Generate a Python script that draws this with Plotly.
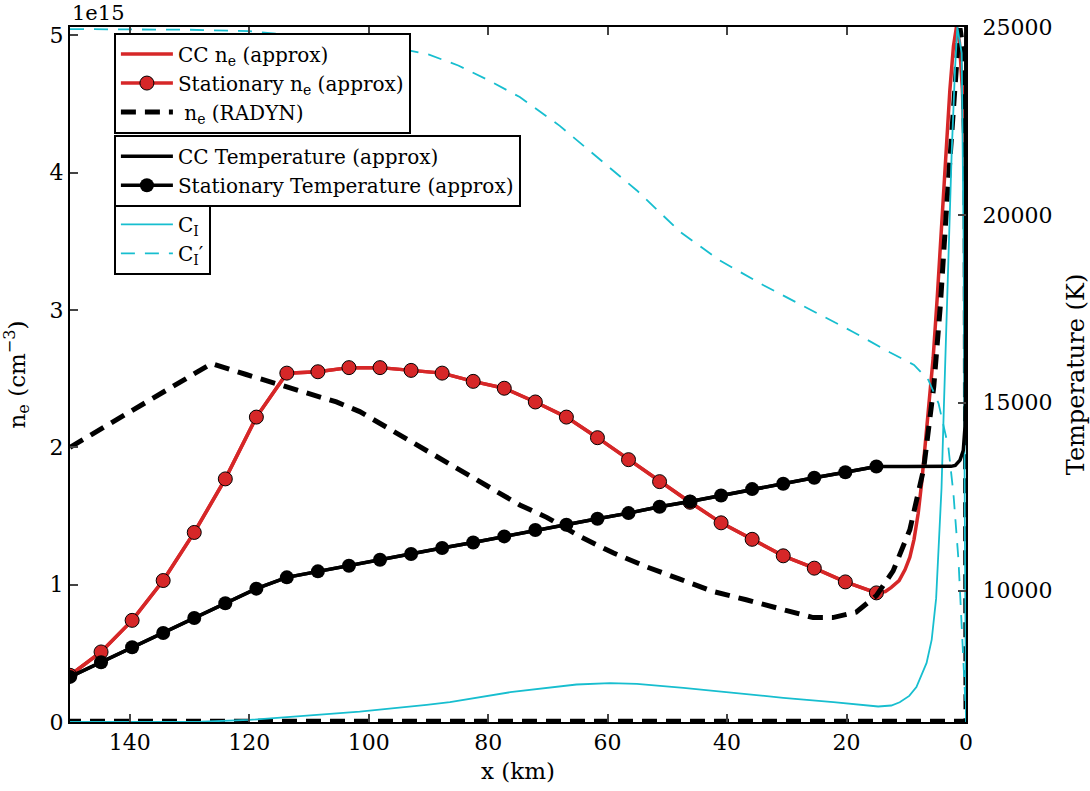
import plotly.graph_objects as go

# ---- stationary solution sample points (km) ----
x_stat = [150.0, 144.8, 139.6, 134.4, 129.2, 124.0, 118.8, 113.7, 108.5, 103.3,
          98.1, 92.9, 87.7, 82.5, 77.3, 72.1, 66.9, 61.7, 56.5, 51.3,
          46.2, 41.0, 35.8, 30.6, 25.4, 20.2, 15.0]
# electron density, units of 1e15 cm^-3
ne_stat = [0.34, 0.51, 0.74, 1.03, 1.38, 1.77, 2.22, 2.54, 2.55, 2.58,
           2.58, 2.56, 2.54, 2.48, 2.43, 2.33, 2.22, 2.07, 1.91, 1.75,
           1.60, 1.45, 1.33, 1.21, 1.12, 1.02, 0.94]
# temperature, K
T_stat = [7700, 8090, 8490, 8870, 9270, 9660, 10050, 10350, 10510, 10660,
          10820, 10970, 11130, 11280, 11440, 11610, 11750, 11910, 12060, 12230,
          12370, 12530, 12700, 12840, 13000, 13150, 13300]

# ---- CC solution beyond the last stationary point ----
x_cc_ne_tail = [13.5, 12.5, 11.2, 10.2, 9.4, 8.7, 8.0, 7.4, 6.8, 6.2, 5.5, 4.8,
                4.1, 3.4, 2.7, 2.1, 1.6, 1.1, 0.6, 0.25, 0.0]
ne_cc_tail = [0.95, 0.98, 1.03, 1.11, 1.20, 1.33, 1.52, 1.75, 2.05, 2.35, 2.65, 3.10,
              3.62, 4.10, 4.60, 4.92, 5.06, 4.95, 4.60, 4.10, 3.60]
x_cc_T_tail = [10.0, 5.0, 2.5, 1.8, 1.0, 0.45, 0.17, 0.08, 0.05, 0.03]
T_cc_tail = [13300, 13300, 13305, 13330, 13470, 13735, 14355, 15250, 18000, 25000]

# ---- RADYN electron density (1e15 cm^-3) ----
x_radyn = [150.0, 126.3, 120.5, 112.6, 105.4, 101.5, 95.9, 90.3, 84.7, 79.1,
           74.7, 70.2, 64.6, 59.0, 53.5, 47.9, 42.3, 36.8, 31.1, 25.6,
           22.3, 18.4, 15.0, 12.2, 9.4, 7.1, 5.4, 4.3, 3.2, 2.1,
           1.3, 1.0, 0.5, 0.15, 0.0, 0.0, 150.0]
ne_radyn = [2.00, 2.61, 2.53, 2.43, 2.33, 2.26, 2.12, 1.98, 1.83, 1.69,
            1.58, 1.49, 1.35, 1.23, 1.13, 1.04, 0.95, 0.89, 0.82, 0.76,
            0.76, 0.80, 0.92, 1.10, 1.40, 1.84, 2.44, 3.03, 3.78, 4.52,
            4.96, 5.05, 4.90, 4.00, 2.00, 0.005, 0.005]

# ---- C_I and C_I' (same scale as n_e) ----
x_ci = [150.0, 135.0, 128.0, 120.0, 112.6, 101.5, 90.3, 86.4, 76.3, 65.2,
        59.6, 55.1, 47.3, 38.9, 30.6, 22.2, 14.7, 12.5, 11.1, 9.5,
        8.3, 6.6, 5.74, 5.0, 4.5, 4.1, 3.7, 3.3, 2.95, 2.4,
        1.84, 1.45, 0.72, 0.4, 0.2, 0.0]
ci = [0.0, 0.0, 0.002, 0.015, 0.04, 0.076, 0.124, 0.144, 0.217, 0.273,
      0.283, 0.278, 0.249, 0.21, 0.176, 0.144, 0.113, 0.12, 0.144, 0.19,
      0.254, 0.43, 0.60, 0.90, 1.30, 1.70, 2.30, 2.90, 3.41, 4.14,
      4.75, 5.06, 4.87, 3.50, 1.50, 0.0]
x_ci_p = [150.0, 130.0, 120.0, 110.0, 100.0, 90.0, 85.0, 79.7, 74.7, 68.0,
          60.7, 55.1, 47.9, 41.2, 33.9, 26.1, 18.9, 12.7, 9.4, 8.7,
          6.3, 4.6, 2.95, 2.1, 1.26, 0.7, 0.17, 0.0]
ci_p = [5.045, 5.04, 5.03, 4.99, 4.95, 4.86, 4.78, 4.667, 4.55, 4.34,
        4.07, 3.87, 3.57, 3.36, 3.18, 3.00, 2.84, 2.69, 2.62, 2.60,
        2.49, 2.32, 2.00, 1.66, 1.18, 0.69, 0.20, 0.05]

ne_ticks = [0, 1, 2, 3, 4, 5]
T_ticks = [10000, 15000, 20000, 25000]
x_ticks = [140, 120, 100, 80, 60, 40, 20, 0]

SCALE = 1e15
RED = "#d62728"
CYAN = "#17becf"
FONT = "DejaVu Serif"


def scaled(vals):
    return [v * SCALE for v in vals]


fig = go.Figure()

# electron densities (left axis)
fig.add_trace(go.Scatter(
    x=x_stat + x_cc_ne_tail, y=scaled(ne_stat + ne_cc_tail), mode="lines",
    line=dict(color=RED, width=3.5), name="CC n<sub>e</sub> (approx)",
    legend="legend"))
fig.add_trace(go.Scatter(
    x=x_stat, y=scaled(ne_stat), mode="lines+markers",
    line=dict(color=RED, width=3.5),
    marker=dict(symbol="circle", size=14, color=RED, line=dict(color="black", width=1)),
    name="Stationary n<sub>e</sub> (approx)", legend="legend"))
fig.add_trace(go.Scatter(
    x=x_radyn, y=scaled(ne_radyn), mode="lines",
    line=dict(color="black", width=5, dash="15px,9px"),
    name=" n<sub>e</sub> (RADYN)", legend="legend"))

# C_I curves
fig.add_trace(go.Scatter(
    x=x_ci, y=scaled(ci), mode="lines", line=dict(color=CYAN, width=1.8),
    name="C<sub>I</sub>", legend="legend3"))
fig.add_trace(go.Scatter(
    x=x_ci_p, y=scaled(ci_p), mode="lines",
    line=dict(color=CYAN, width=1.8, dash="14px,10px"),
    name="C<sub>I</sub>\u2032", legend="legend3"))

# temperatures (right axis)
fig.add_trace(go.Scatter(
    x=x_stat + x_cc_T_tail, y=T_stat + T_cc_tail, mode="lines", yaxis="y2",
    line=dict(color="black", width=3.5), name="CC Temperature (approx)",
    legend="legend2"))
fig.add_trace(go.Scatter(
    x=x_stat, y=T_stat, mode="lines+markers", yaxis="y2",
    line=dict(color="black", width=3.5),
    marker=dict(symbol="circle", size=14, color="black"),
    name="Stationary Temperature (approx)", legend="legend2"))

legend_common = dict(
    xanchor="left", yanchor="top", bgcolor="white", bordercolor="black",
    borderwidth=2, font=dict(family=FONT, size=20, color="black"),
    tracegroupgap=0, itemwidth=52)

fig.update_layout(
    width=1090, height=791,
    margin=dict(l=70, r=124, t=27, b=69, autoexpand=False),
    plot_bgcolor="white", paper_bgcolor="white",
    font=dict(family=FONT, size=22, color="black"),
    showlegend=True,
    legend=dict(x=0.049, y=0.992, **legend_common),
    legend2=dict(x=0.049, y=0.845, **legend_common),
    legend3=dict(x=0.049, y=0.747, **legend_common),
    xaxis=dict(
        range=[150, 0], tickvals=x_ticks, ticks="inside", ticklen=8, tickwidth=1.5,
        showline=True, linewidth=2, linecolor="black", mirror="ticks",
        showgrid=False, zeroline=False, automargin=False,
        title=dict(text="x (km)", font=dict(size=23), standoff=8),
        tickfont=dict(size=22)),
    yaxis=dict(
        range=[0, 5.06 * SCALE], tickvals=scaled(ne_ticks),
        ticktext=[str(t) for t in ne_ticks], ticks="inside", ticklen=8, tickwidth=1.5,
        showline=True, linewidth=2, linecolor="black", showgrid=False, zeroline=False,
        automargin=False,
        title=dict(text="n<sub>e</sub> (cm<sup>\u22123</sup>)", font=dict(size=23), standoff=18),
        tickfont=dict(size=22)),
    yaxis2=dict(
        overlaying="y", side="right", range=[6500, 25000], tickvals=T_ticks,
        ticktext=[str(t) for t in T_ticks], ticks="inside", ticklen=8, tickwidth=1.5,
        ticklabelstandoff=10, automargin=False,
        showline=True, linewidth=2, linecolor="black", showgrid=False, zeroline=False,
        title=dict(text="Temperature (K)", font=dict(size=24), standoff=22),
        tickfont=dict(size=22)),
    annotations=[dict(
        text="1e15", xref="paper", yref="paper", x=0, y=1, xanchor="left",
        yanchor="bottom", showarrow=False, font=dict(family=FONT, size=21))],
)

fig.write_html("out.html")
